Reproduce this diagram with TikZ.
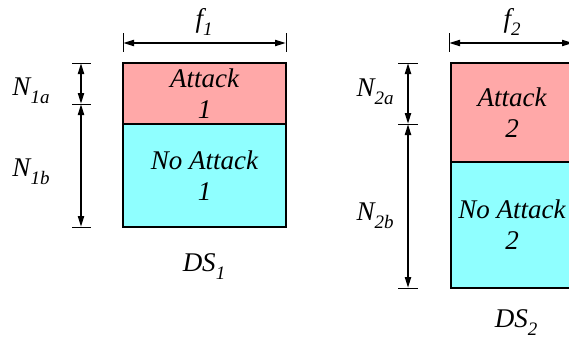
\documentclass[tikz,border=0pt]{standalone}
\usepackage{fontspec}
\newfontfamily\figfont{Liberation Serif}[UprightFont={* Italic}]
\usepackage{xcolor}
\usetikzlibrary{arrows.meta, positioning, calc}
\tikzset{>={Triangle[length=11pt,width=6pt]}}

\definecolor{attackred}{RGB}{255,168,168}
\definecolor{noattackcyan}{RGB}{143,255,255}
\newcommand{\idx}[1]{\raisebox{-8pt}{\fontsize{19}{19}\selectfont #1}}

\begin{document}
\begin{tikzpicture}[x=1pt, y=-1pt, line width=2pt,
    lbl/.style={font=\figfont\fontsize{27}{31}\selectfont, inner sep=0pt},
    attackbox/.style={lbl, draw, fill=attackred, align=center},
    noattackbox/.style={lbl, draw, fill=noattackcyan, align=center},
    tick/.style={line width=1pt}]

            \useasboundingbox (0,0) rectangle (569,340);

            % Datensatz 1
            \node[attackbox, minimum width=163pt, minimum height=61pt] (atk1) at (204.5,93.5) {Attack\\1};
            \node[noattackbox, minimum width=163pt, minimum height=103pt] (noatk1) at (204.5,175.5) {No Attack\\1};
            \node[lbl] (ds1) at (204,267) {DS\idx{1}};

            % Breite f1
            \coordinate (f1l) at (123,43);
            \coordinate (f1r) at (286,43);
            \draw[tick] (123,33) -- (123,52);
            \draw[tick] (286,33) -- (286,52);
            \draw[<->] (f1l) -- (f1r);
            \node[lbl] (f1) at (204,22) {f\idx{1}};

            % Hoehen N1a, N1b
            \coordinate (n1top) at (81,63);
            \coordinate (n1mid) at (81,104);
            \coordinate (n1bot) at (81,227);
            \draw[tick] (72,63) -- (91,63);
            \draw[tick] (72,104) -- (91,104);
            \draw[tick] (72,227) -- (91,227);
            \draw[<->] (n1top) -- (n1mid);
            \draw[<->] (n1mid) -- (n1bot);
            \node[lbl] (n1a) at (31,91) {N\idx{1a}};
            \node[lbl] (n1b) at (31,172) {N\idx{1b}};

            % Datensatz 2
            \node[attackbox, minimum width=122pt, minimum height=99pt] (atk2) at (512,112.5) {Attack\\2};
            \node[noattackbox, minimum width=122pt, minimum height=126pt] (noatk2) at (512,225) {No Attack\\2};
            \node[lbl] (ds2) at (516,323) {DS\idx{2}};

            % Breite f2
            \coordinate (f2l) at (449,43);
            \coordinate (f2r) at (573,43);
            \draw[tick] (449,33) -- (449,52);
            \draw[<->] (f2l) -- (f2r);
            \node[lbl] (f2) at (512,22) {f\idx{2}};

            % Hoehen N2a, N2b
            \coordinate (n2top) at (408,63);
            \coordinate (n2mid) at (408,124);
            \coordinate (n2bot) at (408,288);
            \draw[tick] (398,63) -- (418,63);
            \draw[tick] (398,124) -- (418,124);
            \draw[tick] (398,288) -- (418,288);
            \draw[<->] (n2top) -- (n2mid);
            \draw[<->] (n2mid) -- (n2bot);
            \node[lbl] (n2a) at (375,92) {N\idx{2a}};
            \node[lbl] (n2b) at (375,216) {N\idx{2b}};

\end{tikzpicture}
\end{document}
